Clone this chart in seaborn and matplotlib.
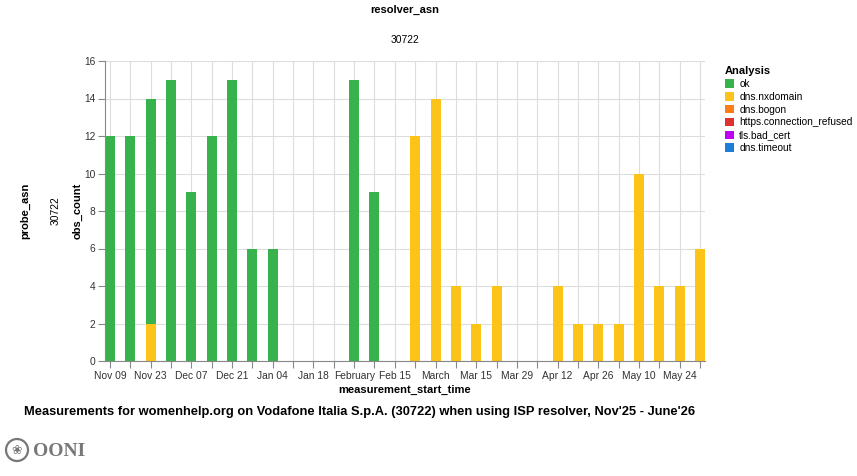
import pandas as pd
import numpy as np
import matplotlib
matplotlib.use("Agg")
import matplotlib.pyplot as plt
import matplotlib.dates as mdates
from matplotlib.patches import Patch, Circle
import seaborn as sns

# weekly observation counts (week start dates)
ok_weeks = ["2025-11-09", "2025-11-16", "2025-11-23", "2025-11-30", "2025-12-07",
            "2025-12-14", "2025-12-21", "2025-12-28", "2026-01-04", "2026-02-01",
            "2026-02-08"]
ok_counts = [12, 12, 12, 15, 9, 12, 15, 6, 6, 15, 9]

nxdomain_weeks = ["2025-11-23", "2026-02-22", "2026-03-01", "2026-03-08", "2026-03-15",
                  "2026-03-22", "2026-04-12", "2026-04-19", "2026-04-26", "2026-05-03",
                  "2026-05-10", "2026-05-17", "2026-05-24", "2026-05-31"]
nxdomain_counts = [2, 12, 14, 4, 2, 4, 4, 2, 2, 2, 10, 4, 4, 6]

categories = ["ok", "dns.nxdomain", "dns.bogon", "https.connection_refused",
              "tls.bad_cert", "dns.timeout"]
colors = ["#37b24d", "#fcc419", "#fd7e14", "#e03131", "#be00f5", "#1c7ed6"]

first_week = "2025-11-09"
last_week = "2026-05-31"

df = pd.concat([
    pd.DataFrame({"week": pd.to_datetime(ok_weeks), "analysis": "ok", "obs_count": ok_counts}),
    pd.DataFrame({"week": pd.to_datetime(nxdomain_weeks), "analysis": "dns.nxdomain",
                  "obs_count": nxdomain_counts}),
])
df["day"] = mdates.date2num(df["week"])

weeks = pd.date_range(first_week, last_week, freq="7D")
week_num = mdates.date2num(weeks)
edges = list(np.append(week_num - 3.5, week_num[-1] + 3.5))

font = "Liberation Sans"
plt.rcParams["font.family"] = [font, "DejaVu Sans"]

fig = plt.figure(figsize=(8.57, 4.76), dpi=100)
ax = fig.add_axes([105 / 857, 1 - 361 / 476, 600 / 857, 300 / 476])

sns.histplot(data=df, x="day", weights="obs_count", hue="analysis",
             hue_order=["ok", "dns.nxdomain"], multiple="stack", bins=edges,
             shrink=0.49, palette=dict(zip(categories, colors)), alpha=1,
             linewidth=0, legend=False, ax=ax)

ax.set_xlim(week_num[0] - 1.7, week_num[-1] + 1.7)
ax.set_ylim(0, 16)
ax.set_yticks(range(0, 17, 2))
ax.set_xticks(week_num)


def fmt_label(d, i):
    if i % 2:
        return ""
    if d.day == 1:
        return d.strftime("%B")
    return d.strftime("%b %d")


ax.set_xticklabels([fmt_label(d, i) for i, d in enumerate(weeks)])
ax.grid(True, color="#dddddd", linewidth=0.8)
ax.set_axisbelow(True)
for s in ["top", "right"]:
    ax.spines[s].set_visible(False)
for s in ["left", "bottom"]:
    ax.spines[s].set_color("#888888")
    ax.spines[s].set_linewidth(0.8)
ax.tick_params(colors="#888888", length=5, width=0.8, labelsize=7.4, labelcolor="#333333", pad=2)
ax.set_xlabel("measurement_start_time", fontsize=8, fontweight="bold", labelpad=3)
ax.set_ylabel("")

# facet style labels
fig.text(405 / 857, 1 - 10 / 476, "resolver_asn", ha="center", va="center",
         fontsize=8, fontweight="bold")
fig.text(405 / 857, 1 - 40 / 476, "30722", ha="center", va="center", fontsize=7.4)
fig.text(25 / 857, 1 - 211 / 476, "probe_asn", ha="center", va="center",
         rotation=90, fontsize=8, fontweight="bold")
fig.text(56 / 857, 1 - 211 / 476, "30722", ha="center", va="center",
         rotation=90, fontsize=7.4)
fig.text(78 / 857, 1 - 211 / 476, "obs_count", ha="center", va="center",
         rotation=90, fontsize=8, fontweight="bold")

# legend
handles = [Patch(facecolor=c, edgecolor="none") for c in colors]
leg = fig.legend(handles, categories, title="Analysis", loc="upper left",
                 bbox_to_anchor=(716 / 857, 1 - 57 / 476), frameon=False,
                 fontsize=7.3, title_fontsize=8, handlelength=0.9, handleheight=0.9,
                 handletextpad=0.5, labelspacing=0.28, alignment="left")
leg.get_title().set_fontweight("bold")

# caption
fig.text(24 / 857, 1 - 412 / 476,
         "Measurements for womenhelp.org on Vodafone Italia S.p.A. (30722) when using ISP resolver, Nov'25 - June'26",
         ha="left", va="center", fontsize=9.3, fontweight="bold")

# OONI logo
logo = Circle((0.17, 0.26), 0.11, transform=fig.dpi_scale_trans,
              fill=False, edgecolor="#777777", linewidth=1.6)
fig.patches.append(logo)
fig.text(17 / 857, 1 - 450 / 476, "\u2740", ha="center", va="center",
         fontsize=9, color="#777777", family="DejaVu Sans")
fig.text(33 / 857, 1 - 451 / 476, "OONI", ha="left", va="center",
         fontsize=14, fontweight="bold", color="#777777", family="Liberation Serif")

fig.savefig("out.png", dpi=100)
